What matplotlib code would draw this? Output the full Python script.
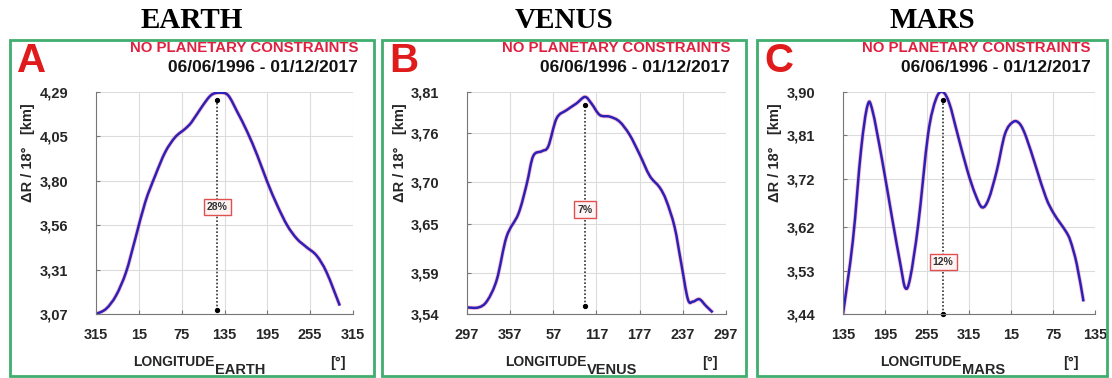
import numpy as np
import matplotlib.pyplot as plt
from matplotlib.patches import Rectangle, PathPatch
from matplotlib.path import Path

# Kurvor (longitud i grader, dR i km)
earth_lon = [315, 329, 343, 357, 10, 24, 38, 52, 66, 80, 89, 103, 116, 128, 140, 153, 167, 181, 195, 209, 223, 236.5, 250, 264, 278, 296.5]
earth_dr = [3.07, 3.098, 3.171, 3.299, 3.483, 3.685, 3.831, 3.960, 4.042, 4.088, 4.125, 4.207, 4.272, 4.286, 4.272, 4.180, 4.070, 3.941, 3.795, 3.666, 3.556, 3.483, 3.437, 3.391, 3.299, 3.116]

venus_lon = [297, 313, 325, 338.5, 352, 8.5, 20, 29, 41, 50, 61.6, 75.5, 89, 101, 110, 121.6, 135.5, 149, 163, 177, 191, 204.7, 214, 225.5, 234.7, 244, 251, 260, 269, 278.5]
venus_dr = [3.548, 3.548, 3.556, 3.582, 3.634, 3.662, 3.698, 3.732, 3.738, 3.744, 3.778, 3.788, 3.796, 3.804, 3.796, 3.782, 3.780, 3.774, 3.758, 3.734, 3.708, 3.694, 3.678, 3.646, 3.602, 3.558, 3.555, 3.558, 3.550, 3.542]

mars_lon = [135, 149, 160.7, 170, 177, 191, 205, 217, 224, 231, 242.5, 256.6, 268, 277.6, 287, 298.6, 312.7, 324, 333.7, 343, 354.7, 6.4, 18, 27.5, 36.8, 50.8, 65, 76.6, 93, 100, 109, 118.6]
mars_dr = [3.44, 3.591, 3.779, 3.872, 3.862, 3.758, 3.640, 3.543, 3.494, 3.515, 3.626, 3.813, 3.886, 3.90, 3.876, 3.813, 3.737, 3.688, 3.661, 3.678, 3.737, 3.813, 3.838, 3.834, 3.806, 3.744, 3.681, 3.647, 3.612, 3.591, 3.543, 3.466]

planets = ['EARTH', 'VENUS', 'MARS']
letters = ['A', 'B', 'C']
start_lon = [315, 297, 135]
yticks = [[3.07, 3.31, 3.56, 3.80, 4.05, 4.29],
          [3.54, 3.59, 3.65, 3.70, 3.76, 3.81],
          [3.44, 3.53, 3.62, 3.72, 3.81, 3.90]]
peak_lon = [125, 101, 278]
peak_top = [4.244, 3.794, 3.883]
peak_bottom = [3.094, 3.55, 3.44]
pct = ['28%', '7%', '12%']
pct_y = [3.657, 3.667, 3.547]

lons = [earth_lon, venus_lon, mars_lon]
drs = [earth_dr, venus_dr, mars_dr]

W, H = 1112, 378
plt.rcParams['font.family'] = ['Liberation Sans', 'DejaVu Sans']
fig = plt.figure(figsize=(W / 100, H / 100), dpi=100)


def fx(px):
    return px / W


def fy(py):
    return 1 - py / H


def smooth_path(x, y):
    # utjämnad linje som i Excel (Catmull-Rom som Bezier)
    pts = np.column_stack([x, y])
    verts = [pts[0]]
    codes = [Path.MOVETO]
    n = len(pts)
    for k in range(n - 1):
        p0 = pts[k - 1] if k > 0 else pts[k]
        p1 = pts[k]
        p2 = pts[k + 1]
        p3 = pts[k + 2] if k + 2 < n else pts[k + 1]
        verts += [p1 + (p2 - p0) / 6, p2 - (p3 - p1) / 6, p2]
        codes += [Path.CURVE4] * 3
    return Path(verts, codes)


# pixelplacering: (box vänster, box höger, axel vänster, axel höger)
boxes = [(10, 374, 96, 353), (382, 746, 467, 726), (757, 1107, 843, 1095)]
green = '#3fae6e'
dark = '#262626'

for i in range(3):
    bl, br, al, ar = boxes[i]
    fig.patches.append(Rectangle((fx(bl), fy(376)), fx(br - bl), fy(40) - fy(376),
                                 transform=fig.transFigure, fill=False, edgecolor=green, lw=2))
    ax = fig.add_axes([fx(al), fy(314), fx(ar - al), fy(92) - fy(314)])

    s = start_lon[i]
    x = np.array(lons[i], dtype=float)
    x = np.where(x < s, x + 360, x)
    y = np.array(drs[i])
    path = smooth_path(x, y)
    ax.add_patch(PathPatch(path, fill=False, edgecolor='#ff5070', lw=3.0, alpha=0.35))
    ax.add_patch(PathPatch(path, fill=False, edgecolor='#2a22b8', lw=1.8))

    px = peak_lon[i] if peak_lon[i] >= s else peak_lon[i] + 360
    ax.plot([px, px], [peak_bottom[i], peak_top[i]], color='#333333', lw=1.2, ls=(0, (1, 1.2)))
    ax.plot([px, px], [peak_bottom[i], peak_top[i]], 'o', color='black', ms=2.8, clip_on=False)
    ax.text(px, pct_y[i], pct[i], ha='center', va='center', fontsize=7.5, fontweight='bold',
            color='#333333', bbox=dict(boxstyle='square,pad=0.3', fc='#fff4f4', ec='#e05050', lw=1))

    xt = np.arange(s, s + 361, 60)
    ax.set_xticks(xt)
    ax.set_xticklabels([str(int(v % 360)) for v in xt])
    ax.set_xlim(s, s + 360)
    ax.set_yticks(yticks[i])
    ax.set_yticklabels([f'{v:.2f}'.replace('.', ',') for v in yticks[i]])
    ax.set_ylim(yticks[i][0], yticks[i][-1])
    ax.grid(True, color='#dcdcdc', lw=0.8)
    ax.set_axisbelow(True)
    for side in ['top', 'right']:
        ax.spines[side].set_visible(False)
    for side in ['left', 'bottom']:
        ax.spines[side].set_color('#777777')
    ax.tick_params(axis='x', direction='in', length=3, pad=10, labelsize=10.5, colors='#777777', labelcolor=dark)
    ax.tick_params(axis='y', direction='in', length=3, pad=20, labelsize=10.5, colors='#777777', labelcolor=dark)
    for lab in ax.get_xticklabels() + ax.get_yticklabels():
        lab.set_fontweight('bold')

    # texter
    fig.text(fx((bl + br) / 2), fy(20), planets[i], ha='center', va='center',
             fontsize=21, fontweight='bold', family='Liberation Serif')
    fig.text(fx(bl + 22), fy(61), letters[i], ha='center', va='center',
             fontsize=29, fontweight='bold', color='#e01b1b')
    fig.text(fx(br - 16), fy(48), 'NO PLANETARY CONSTRAINTS', ha='right', va='center',
             fontsize=10.8, fontweight='bold', color='#e02040')
    fig.text(fx(br - 16), fy(68), '06/06/1996 - 01/12/2017', ha='right', va='center',
             fontsize=12.5, fontweight='bold', color='#111111')
    fig.text(fx(bl + 18), fy(153), 'ΔR / 18°   [km]', ha='center', va='center', rotation=90,
             fontsize=10.5, fontweight='bold', color=dark)
    fig.text(fx(bl + 205), fy(362), 'LONGITUDE', ha='right', va='center',
             fontsize=10, fontweight='bold', color=dark)
    fig.text(fx(bl + 205), fy(370), planets[i], ha='left', va='center',
             fontsize=10.5, fontweight='bold', color=dark)
    fig.text(fx(br - 36), fy(363), '[°]', ha='center', va='center',
             fontsize=10.5, fontweight='bold', color=dark)

fig.savefig('out.png', dpi=100)
